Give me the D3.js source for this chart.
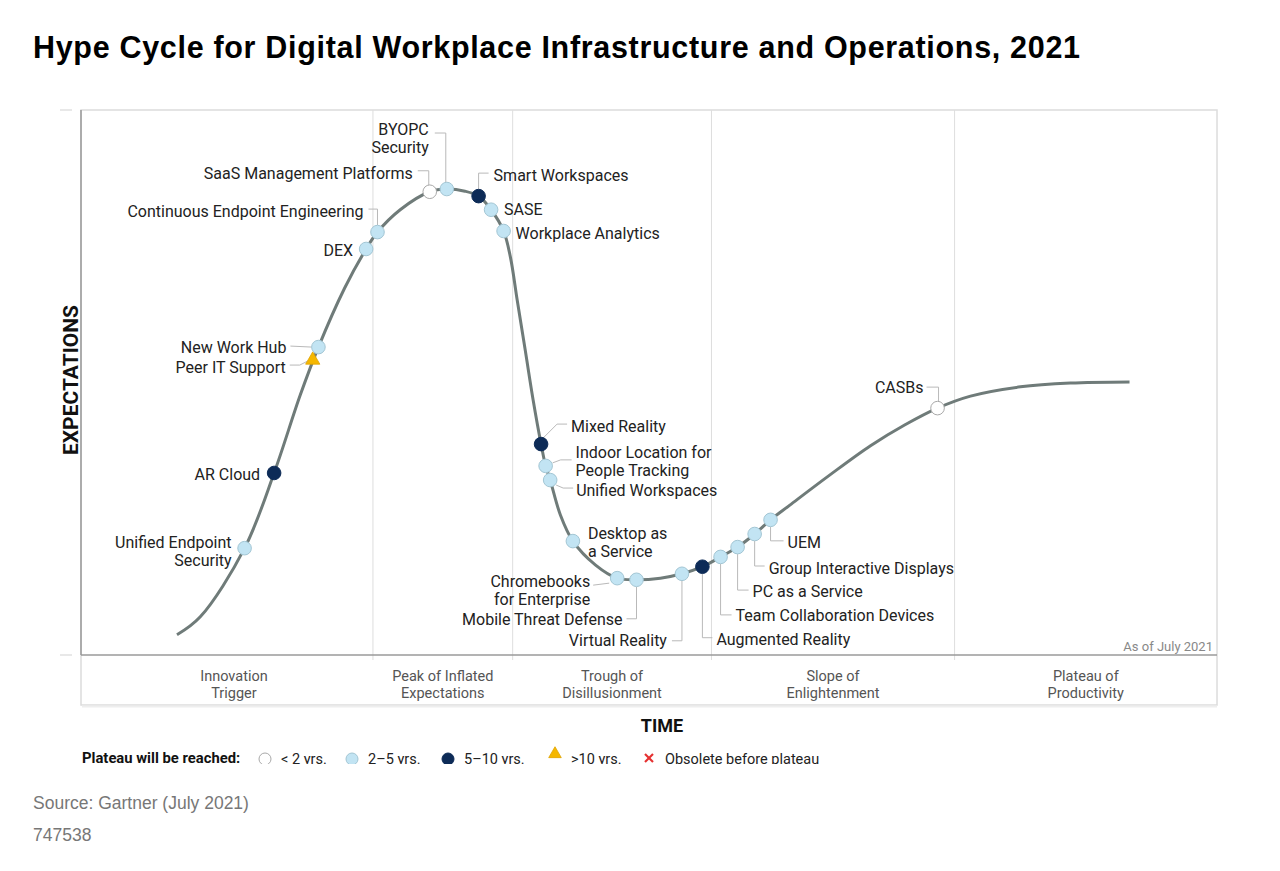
<!DOCTYPE html>
<html><head><meta charset="utf-8">
<script src="https://cdn.jsdelivr.net/npm/d3@7"></script>
<style>body{margin:0;background:#fff}svg{display:block}</style>
</head><body><svg id="c" width="1280" height="871"></svg>
<script>
// ---------- DATA ----------
const curveTime = [8.45,10.5,14.4,17.0,19.3,20.9,23.2,25.1,26.1,28.1,30.7,32.2,33.8,35.0,36.1,37.2,37.8,38.4,39.1,39.8,40.5,40.9,41.3,42.2,43.3,45.3,47.2,48.9,51.0,52.9,54.7,56.3,57.8,59.3,60.7,62.4,65.9,69.5,72.5,75.4,78.3,82.7,87.1,92.3];
const curveExp  = [3.7,7.0,19.6,33.4,47.7,56.5,67.3,74.5,77.6,81.7,85.0,85.5,85.1,84.2,81.7,77.8,73.0,65.1,56.0,46.8,38.7,34.7,32.1,25.7,20.9,16.5,14.1,13.8,14.1,14.9,16.2,18.0,19.8,22.2,24.8,27.5,33.0,38.4,42.2,45.3,47.5,49.2,49.9,50.1];

const techNames = ["Unified Endpoint Security","AR Cloud","Peer IT Support","New Work Hub","DEX","Continuous Endpoint Engineering","SaaS Management Platforms","BYOPC Security","Smart Workspaces","SASE","Workplace Analytics","Mixed Reality","Indoor Location for People Tracking","Unified Workspaces","Desktop as a Service","Chromebooks for Enterprise","Mobile Threat Defense","Virtual Reality","Augmented Reality","Team Collaboration Devices","PC as a Service","Group Interactive Displays","UEM","CASBs"];
const techTime = [14.4,17.0,20.4,20.9,25.1,26.1,30.7,32.2,35.0,36.1,37.2,40.5,40.9,41.3,43.3,47.2,48.9,52.9,54.7,56.3,57.8,59.3,60.7,75.4];
const techExp  = [19.6,33.4,54.3,56.5,74.5,77.6,85.0,85.5,84.2,81.7,77.8,38.7,34.7,32.1,20.9,14.1,13.8,14.9,16.2,18.0,19.8,22.2,24.8,45.3];
const techPlateau = ["2to5","5to10","gt10","2to5","2to5","2to5","lt2","2to5","5to10","2to5","2to5","5to10","2to5","2to5","2to5","2to5","2to5","2to5","5to10","2to5","2to5","2to5","2to5","lt2"];

const phaseNames = [["Innovation","Trigger"],["Peak of Inflated","Expectations"],["Trough of","Disillusionment"],["Slope of","Enlightenment"],["Plateau of","Productivity"]];
const phaseBounds = [0,25.7,38.0,55.5,76.9,100];

const legendKeys = ["lt2","2to5","5to10","gt10","obsolete"];
const legendLabels = ["< 2 yrs.","2–5 yrs.","5–10 yrs.",">10 yrs.","Obsolete before plateau"];

// ---------- LAYOUT (label placement) ----------
const labelLayout = {
 "Unified Endpoint Security":{lines:["Unified Endpoint","Security"],dx:-13,dy:-6,a:"end"},
 "AR Cloud":{dx:-14,dy:2,a:"end"},
 "Peer IT Support":{dx:-27,dy:8,a:"end",L:[[-23,6],[-13,6],[-5,2]]},
 "New Work Hub":{dx:-32,dy:0,a:"end",L:[[-28,-1],[-7,0]]},
 "DEX":{dx:-13,dy:2,a:"end"},
 "Continuous Endpoint Engineering":{dx:-14,dy:-21,a:"end",L:[[-9,-23],[0,-23],[0,-7]]},
 "SaaS Management Platforms":{dx:-17,dy:-18,a:"end",L:[[-12,-21],[-1,-21],[-1,-6]]},
 "BYOPC Security":{lines:["BYOPC","Security"],dx:-18,dy:-60,a:"end",L:[[-12,-56],[-1,-56],[-1,-6]]},
 "Smart Workspaces":{dx:15,dy:-21,a:"start",L:[[10,-23],[0,-23],[0,-7]]},
 "SASE":{dx:13,dy:0,a:"start"},
 "Workplace Analytics":{dx:12,dy:3,a:"start"},
 "Mixed Reality":{dx:30,dy:-18,a:"start",L:[[2,-6],[16,-20],[26,-20]]},
 "Indoor Location for People Tracking":{lines:["Indoor Location for","People Tracking"],dx:30,dy:-13,a:"start",L:[[7,-3],[15,-6],[26,-6]]},
 "Unified Workspaces":{dx:26,dy:10,a:"start",L:[[6,5],[13,8],[23,8]]},
 "Desktop as a Service":{lines:["Desktop as","a Service"],dx:15,dy:-8,a:"start"},
 "Chromebooks for Enterprise":{lines:["Chromebooks","for Enterprise"],dx:-27,dy:3,a:"end",L:[[-24,7],[-8,5]]},
 "Mobile Threat Defense":{dx:-14,dy:40,a:"end",L:[[0,7],[0,39],[-10,39]]},
 "Virtual Reality":{dx:-15,dy:67,a:"end",L:[[0,7],[0,67],[-10,67]]},
 "Augmented Reality":{dx:14,dy:73,a:"start",L:[[0,7],[0,71],[10,71]]},
 "Team Collaboration Devices":{dx:15,dy:59,a:"start",L:[[0,7],[0,58],[11,58]]},
 "PC as a Service":{dx:15,dy:44,a:"start",L:[[0,7],[0,43],[11,43]]},
 "Group Interactive Displays":{dx:14,dy:34,a:"start",L:[[0,7],[0,32],[10,32]]},
 "UEM":{dx:17,dy:23,a:"start",L:[[0,7],[0,21],[13,21]]},
 "CASBs":{dx:-14,dy:-21,a:"end",L:[[-11,-21],[1,-21],[1,-6]]}
};

const styles = {
 lt2:{fill:"#ffffff",stroke:"#a9a9a9"},
 "2to5":{fill:"#c2e4f3",stroke:"#a3c6d4"},
 "5to10":{fill:"#0d2b57",stroke:"#0d2b57"},
 gt10:{fill:"#f5b700",stroke:"#dfa300"}
};

// ---------- DRAW ----------
const svg = d3.select("#c");
const L = 81, R = 1217, T = 110, B = 655, BB = 705;
const x = d3.scaleLinear([0,100],[L,R]);
const y = d3.scaleLinear([0,100],[B,T]);
const FONT = "Roboto, 'Noto Sans', sans-serif";

svg.append("text").attr("x",33).attr("y",58)
  .attr("font-family","'Liberation Sans', Arial, sans-serif").attr("font-weight","bold")
  .attr("font-size",30.5).attr("fill","#000")
  .attr("textLength",1047).attr("lengthAdjust","spacing")
  .text("Hype Cycle for Digital Workplace Infrastructure and Operations, 2021");

// frame
svg.append("rect").attr("x",L).attr("y",T).attr("width",R-L).attr("height",BB-T)
  .attr("fill","none").attr("stroke","#dcdcdc").attr("stroke-width",1.5);
svg.append("line").attr("x1",L+1).attr("x2",R).attr("y1",BB+1.5).attr("y2",BB+1.5).attr("stroke","#eeeeee").attr("stroke-width",2);
// phase dividers
svg.selectAll("line.div").data(phaseBounds.slice(1,-1)).join("line")
  .attr("x1",d=>x(d)).attr("x2",d=>x(d)).attr("y1",T).attr("y2",B+5)
  .attr("stroke","#dedede").attr("stroke-width",1);
// axes
svg.append("line").attr("x1",L).attr("x2",L).attr("y1",T).attr("y2",B).attr("stroke","#9a9a9a").attr("stroke-width",1.5);
svg.append("line").attr("x1",L).attr("x2",R).attr("y1",B).attr("y2",B).attr("stroke","#9a9a9a").attr("stroke-width",1.5);
[T,B].forEach(v=>svg.append("line").attr("x1",60).attr("x2",72).attr("y1",v).attr("y2",v).attr("stroke","#e0e0e0").attr("stroke-width",1.5));

// phase labels
phaseNames.forEach((p,i)=>{
  const cx = (x(phaseBounds[i])+x(phaseBounds[i+1]))/2 + (i===0?7:0);
  const t = svg.append("text").attr("text-anchor","middle").attr("font-family",FONT)
    .attr("font-size",14.5).attr("fill","#555");
  p.forEach((s,j)=>t.append("tspan").attr("x",cx).attr("y",676+j*17).attr("dominant-baseline","central").text(s));
});

svg.append("text").attr("x",1213).attr("y",646).attr("text-anchor","end").attr("dominant-baseline","central")
  .attr("font-family",FONT).attr("font-size",13).attr("fill","#888").text("As of July 2021");

svg.append("text").attr("transform","translate(71,380) rotate(-90)").attr("text-anchor","middle")
  .attr("dominant-baseline","central").attr("font-family",FONT).attr("font-weight","bold")
  .attr("font-size",21).attr("fill","#111").text("EXPECTATIONS");
svg.append("text").attr("x",662).attr("y",725).attr("text-anchor","middle").attr("dominant-baseline","central")
  .attr("font-family",FONT).attr("font-weight","bold").attr("font-size",18).attr("fill","#111").text("TIME");

// curve
const curvePts = curveTime.map((t,i)=>[t,curveExp[i]]);
svg.append("path").datum(curvePts)
  .attr("d",d3.line().x(d=>x(d[0])).y(d=>y(d[1])).curve(d3.curveCatmullRom.alpha(0.5)))
  .attr("fill","none").attr("stroke","#6f7b79").attr("stroke-width",3);

const tech = techNames.map((n,i)=>({name:n,t:techTime[i],e:techExp[i],p:techPlateau[i]}));

// leaders
const gl = svg.append("g");
tech.forEach(d=>{
  const lay = labelLayout[d.name];
  if(!lay.L) return;
  const px = x(d.t), py = y(d.e);
  gl.append("path").attr("d",d3.line()(lay.L.map(o=>[px+o[0],py+o[1]])))
    .attr("fill","none").attr("stroke","#b9b9b9").attr("stroke-width",1);
});

// markers
const gm = svg.append("g");
function marker(g,key,cx,cy,r){
  const s = styles[key];
  if(key==="gt10"){
    g.append("path").attr("d",d3.symbol(d3.symbolTriangle, r*r*1.9)())
      .attr("transform",`translate(${cx},${cy+1})`).attr("fill",s.fill).attr("stroke",s.stroke).attr("stroke-width",0.8);
  } else {
    g.append("circle").attr("cx",cx).attr("cy",cy).attr("r",r)
      .attr("fill",s.fill).attr("stroke",s.stroke).attr("stroke-width",1);
  }
}
tech.forEach(d=>marker(gm,d.p,x(d.t),y(d.e),6.8));

// labels
const gt = svg.append("g").attr("font-family",FONT).attr("font-size",16).attr("fill","#222");
tech.forEach(d=>{
  const lay = labelLayout[d.name];
  const lines = lay.lines || [d.name];
  const px = x(d.t), py = y(d.e);
  const t = gt.append("text").attr("text-anchor",lay.a);
  lines.forEach((s,j)=>t.append("tspan").attr("x",px+lay.dx).attr("y",py+lay.dy+j*18)
    .attr("dominant-baseline","central").text(s));
});

// legend (clipped at bottom like the source)
svg.append("clipPath").attr("id","lc").append("rect").attr("x",0).attr("y",740).attr("width",1280).attr("height",24);
const lg = svg.append("g").attr("clip-path","url(#lc)");
lg.append("text").attr("x",82).attr("y",758).attr("dominant-baseline","central")
  .attr("font-family",FONT).attr("font-weight","bold").attr("font-size",14.8).attr("fill","#111")
  .text("Plateau will be reached:");
const legX = [265,352,448,555,649];
legendKeys.forEach((k,i)=>{
  const cx = legX[i];
  if(k==="obsolete"){
    const g = lg.append("g").attr("stroke","#e53030").attr("stroke-width",2.2);
    g.append("line").attr("x1",cx-4).attr("x2",cx+4).attr("y1",754).attr("y2",762);
    g.append("line").attr("x1",cx-4).attr("x2",cx+4).attr("y1",762).attr("y2",754);
  } else if(k==="gt10"){
    marker(lg,k,cx,753,6);
  } else {
    marker(lg,k,cx,759,6);
  }
  lg.append("text").attr("x",cx+16).attr("y",759).attr("dominant-baseline","central")
    .attr("font-family",FONT).attr("font-size",14.5).attr("fill","#222").text(legendLabels[i]);
});

svg.append("text").attr("x",33).attr("y",803).attr("dominant-baseline","central")
  .attr("font-family","'Liberation Sans', Arial, sans-serif").attr("font-size",17.5).attr("fill","#777")
  .text("Source: Gartner (July 2021)");
svg.append("text").attr("x",33).attr("y",835).attr("dominant-baseline","central")
  .attr("font-family","'Liberation Sans', Arial, sans-serif").attr("font-size",17.5).attr("fill","#777")
  .text("747538");
</script></body></html>
